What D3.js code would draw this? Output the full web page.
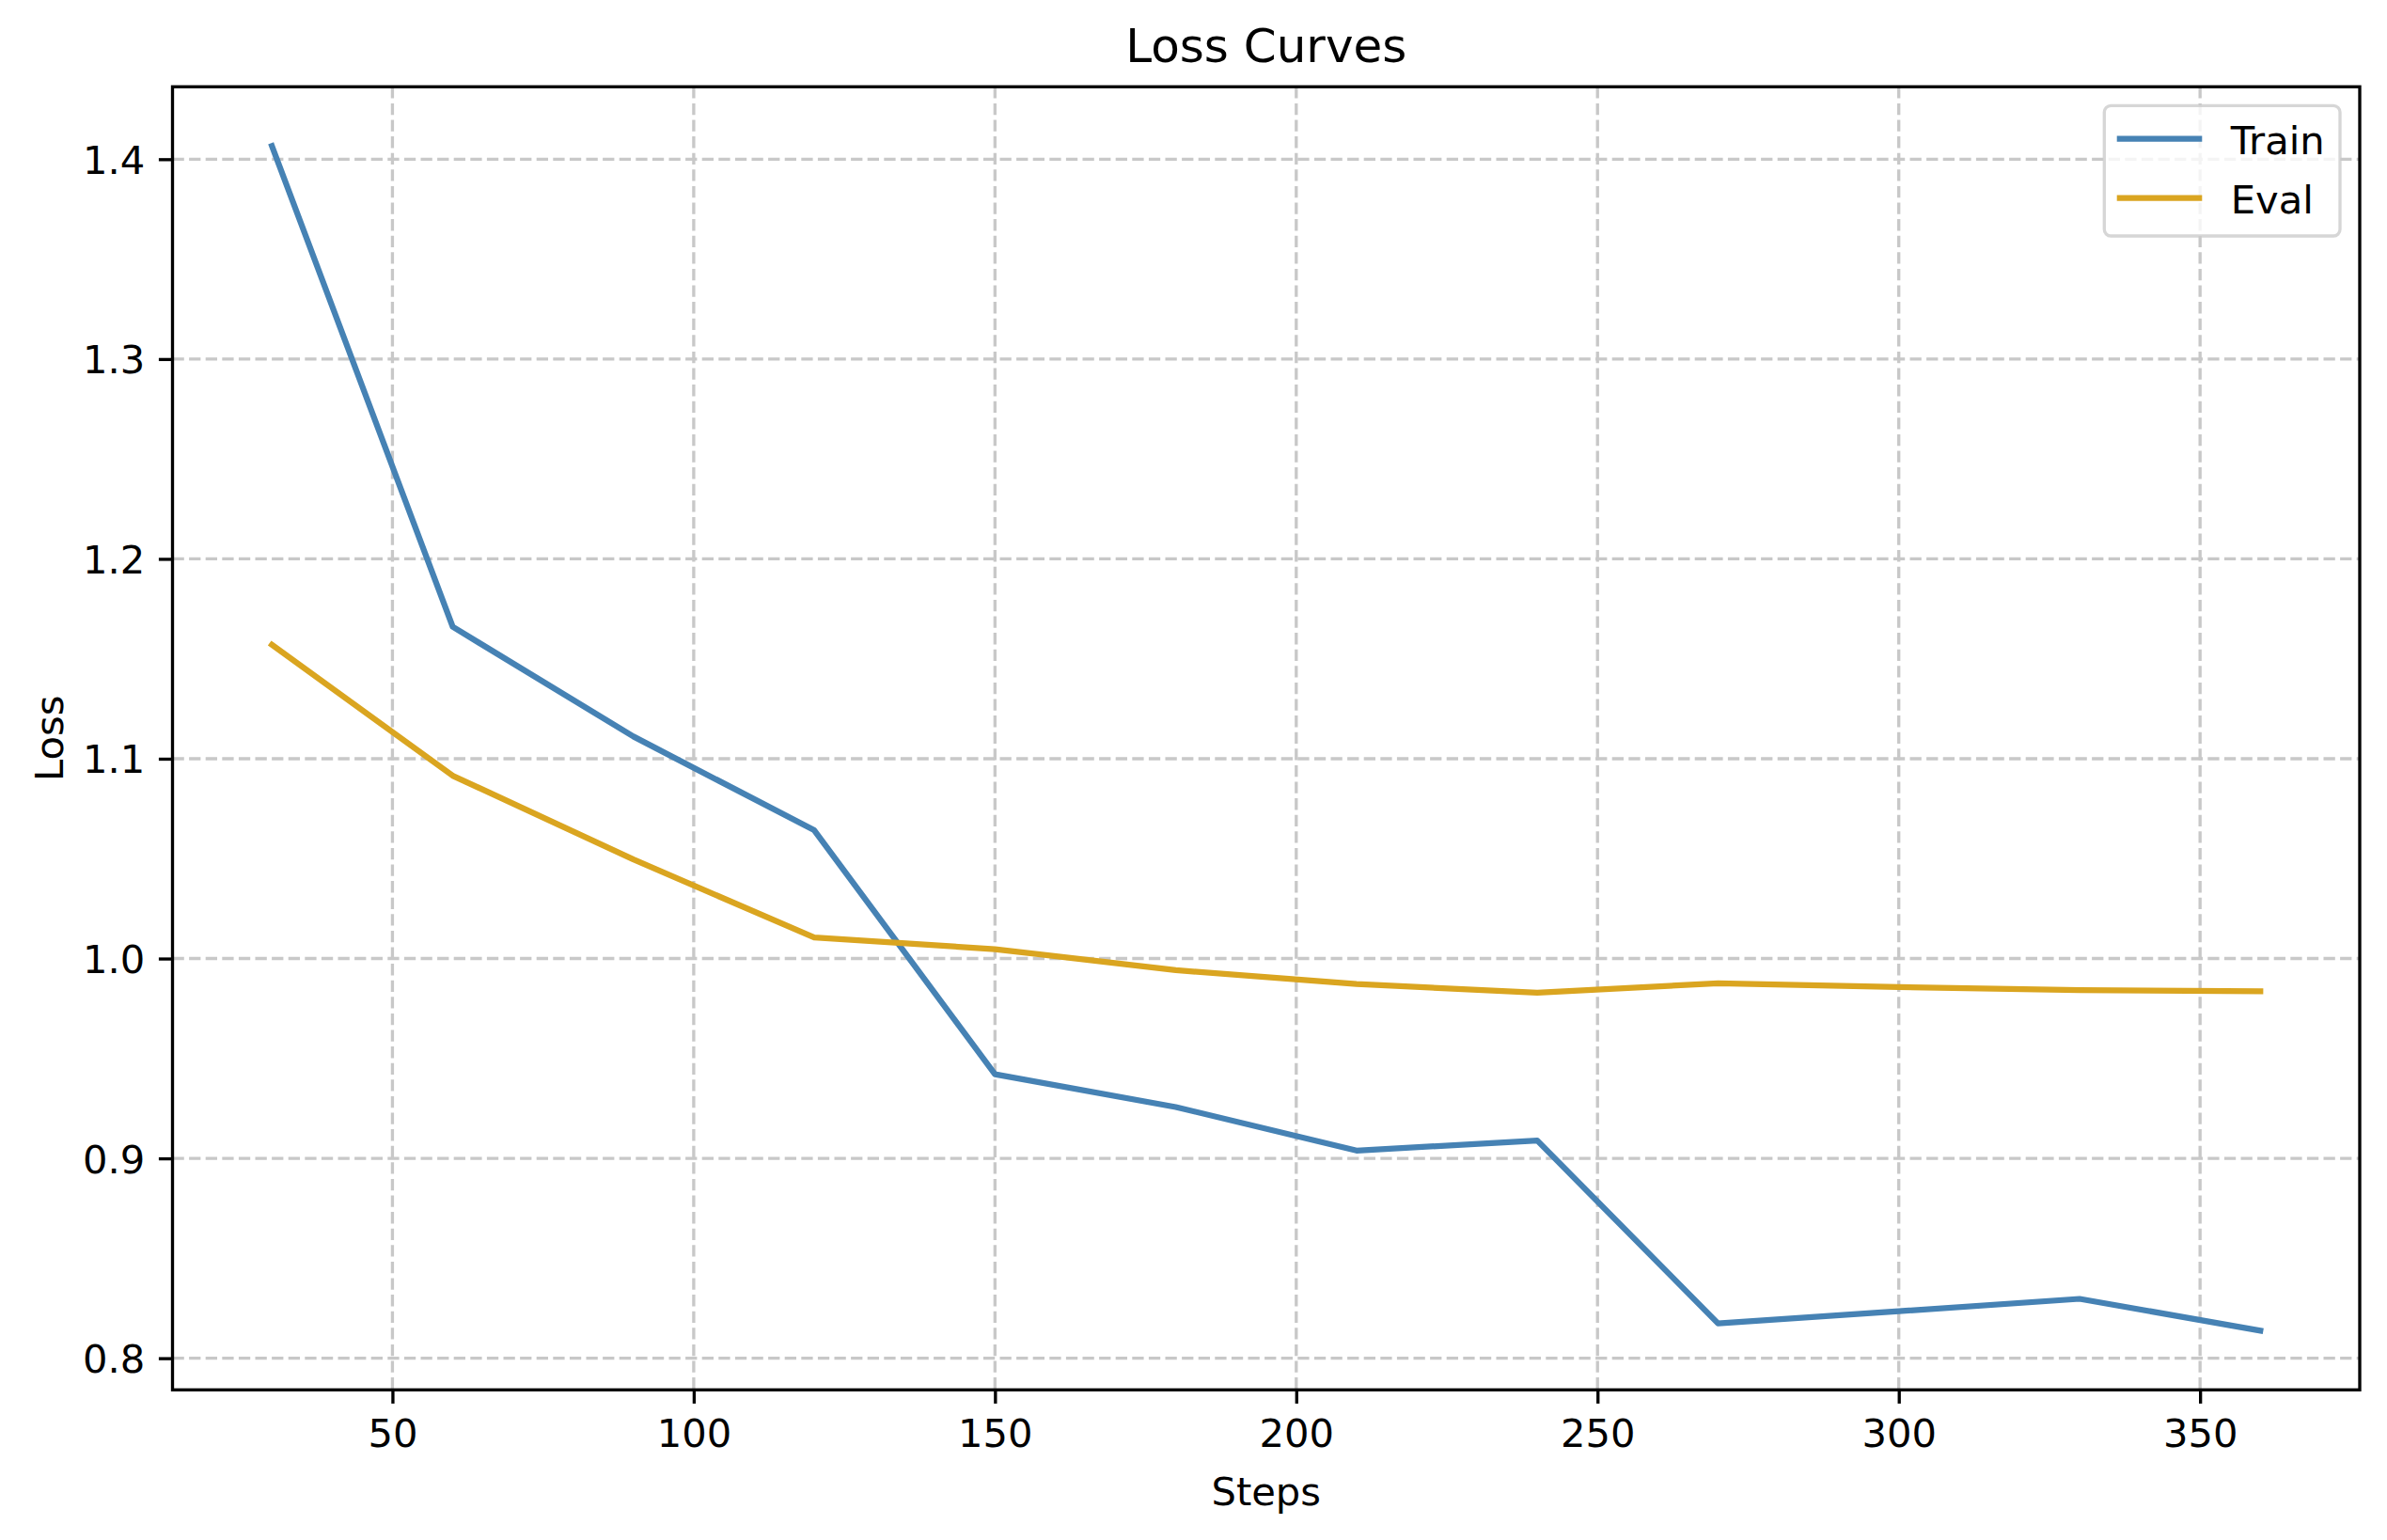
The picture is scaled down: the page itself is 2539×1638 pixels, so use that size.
<!DOCTYPE html>
<html>
<head>
<meta charset="utf-8">
<script src="https://cdn.jsdelivr.net/npm/d3@7"></script>
<style>
  html, body { margin: 0; padding: 0; background: #ffffff; }
  svg { display: block; font-family: "DejaVu Sans", sans-serif; }
</style>
</head>
<body>
<svg id="chart" width="2539" height="1638"></svg>
<script>
// ---- data ----
const steps = [30, 60, 90, 120, 150, 180, 210, 240, 270, 300, 330, 360];
const trainLoss = [1.4066, 1.1660, 1.1111, 1.0642, 0.9421, 0.9257, 0.9039, 0.9089, 0.8174, 0.8235, 0.8297, 0.8138];
const evalLoss  = [1.1570, 1.0915, 1.0496, 1.0105, 1.0047, 0.9942, 0.9872, 0.9829, 0.9876, 0.9857, 0.9842, 0.9836];
const seriesNames = ["Train", "Eval"];
const seriesColors = ["#4682b4", "#daa520"];
const xTicks = [50, 100, 150, 200, 250, 300, 350];
const yTicks = [0.8, 0.9, 1.0, 1.1, 1.2, 1.3, 1.4];
const titleText = "Loss Curves";
const xLabelText = "Steps";
const yLabelText = "Loss";

// ---- layout ----
const W = 2539, H = 1638;
const plot = { left: 183.5, top: 92.3, right: 2510, bottom: 1478.3 };
const fs = 41.67, titleFs = 50;
const tickLen = 14.6, axisLw = 3.33;

const svg = d3.select("#chart");
svg.append("rect").attr("width", W).attr("height", H).attr("fill", "#ffffff");

function padded(lo, hi) { const p = (hi - lo) * 0.05; return [lo - p, hi + p]; }
const allY = trainLoss.concat(evalLoss);
const x = d3.scaleLinear().domain(padded(d3.min(steps), d3.max(steps))).range([plot.left, plot.right]);
const y = d3.scaleLinear().domain(padded(d3.min(allY), d3.max(allY))).range([plot.bottom, plot.top]);

// ---- grid ----
const grid = svg.append("g").attr("class", "grid");
grid.selectAll("line.gx").data(xTicks).join("line")
  .attr("x1", d => x(d)).attr("x2", d => x(d))
  .attr("y1", plot.top).attr("y2", plot.bottom);
grid.selectAll("line.gy").data(yTicks).join("line")
  .attr("class", "gy")
  .attr("x1", plot.left).attr("x2", plot.right)
  .attr("y1", d => y(d)).attr("y2", d => y(d));
grid.selectAll("line")
  .attr("stroke", "#c8c8c8").attr("stroke-width", 3.33)
  .attr("stroke-dasharray", "12.3,5.3");

// ---- series lines ----
const series = [trainLoss, evalLoss];
const lineGen = d3.line().x((d, i) => x(steps[i])).y(d => y(d));
series.forEach((vals, k) => {
  svg.append("path").datum(vals)
    .attr("d", lineGen)
    .attr("fill", "none")
    .attr("stroke", seriesColors[k])
    .attr("stroke-width", 6.25)
    .attr("stroke-linejoin", "round")
    .attr("stroke-linecap", "square");
});

// ---- axes ----
const xAxis = d3.axisBottom(x).tickValues(xTicks).tickFormat(d3.format("d"))
  .tickSizeInner(tickLen).tickSizeOuter(0).tickPadding(14.6);
const yAxis = d3.axisLeft(y).tickValues(yTicks).tickFormat(d3.format(".1f"))
  .tickSizeInner(tickLen).tickSizeOuter(0).tickPadding(14.6);

const gx = svg.append("g").attr("transform", `translate(0,${plot.bottom})`).call(xAxis);
const gy = svg.append("g").attr("transform", `translate(${plot.left},0)`).call(yAxis);
[gx, gy].forEach(g => {
  g.select(".domain").remove();
  g.selectAll(".tick line").attr("stroke", "#000").attr("stroke-width", axisLw);
  g.selectAll(".tick text").attr("fill", "#000")
    .style("font-family", "'DejaVu Sans', sans-serif").style("font-size", fs + "px");
});
gx.selectAll(".tick text").attr("dy", "0.76em");
gy.selectAll(".tick text").attr("dy", "0.36em");

// frame
svg.append("rect")
  .attr("x", plot.left).attr("y", plot.top)
  .attr("width", plot.right - plot.left).attr("height", plot.bottom - plot.top)
  .attr("fill", "none").attr("stroke", "#000").attr("stroke-width", axisLw)
  .attr("stroke-linejoin", "miter");

// ---- labels ----
const cx = (plot.left + plot.right) / 2;
svg.append("text").attr("x", cx).attr("y", 66)
  .attr("text-anchor", "middle").style("font-size", titleFs + "px").text(titleText);
svg.append("text").attr("x", cx).attr("y", 1600.5)
  .attr("text-anchor", "middle").style("font-size", fs + "px").text(xLabelText);
svg.append("text")
  .attr("transform", `translate(66.7,${(plot.top + plot.bottom) / 2}) rotate(-90)`)
  .attr("text-anchor", "middle").style("font-size", fs + "px").text(yLabelText);

// ---- legend ----
const lg = { right: plot.right - 21, top: plot.top + 20, w: 250.7, h: 138.7 };
const legend = svg.append("g").attr("transform", `translate(${lg.right - lg.w},${lg.top})`);
legend.append("rect")
  .attr("x", 0).attr("y", 0).attr("width", lg.w).attr("height", lg.h)
  .attr("rx", 7).attr("ry", 7)
  .attr("fill", "rgba(255,255,255,0.8)")
  .attr("stroke", "rgba(204,204,204,0.8)").attr("stroke-width", 3.33);
const rows = legend.selectAll("g.row").data(seriesNames).join("g")
  .attr("transform", (d, i) => `translate(0,${35.4 + i * 63})`);
rows.append("line")
  .attr("x1", 13.4).attr("x2", 104)
  .attr("y1", 0).attr("y2", 0)
  .attr("stroke", (d, i) => seriesColors[i]).attr("stroke-width", 6.25);
rows.append("text")
  .attr("x", 134.4).attr("y", 16.3)
  .style("font-size", fs + "px").text(d => d);
</script>
</body>
</html>
